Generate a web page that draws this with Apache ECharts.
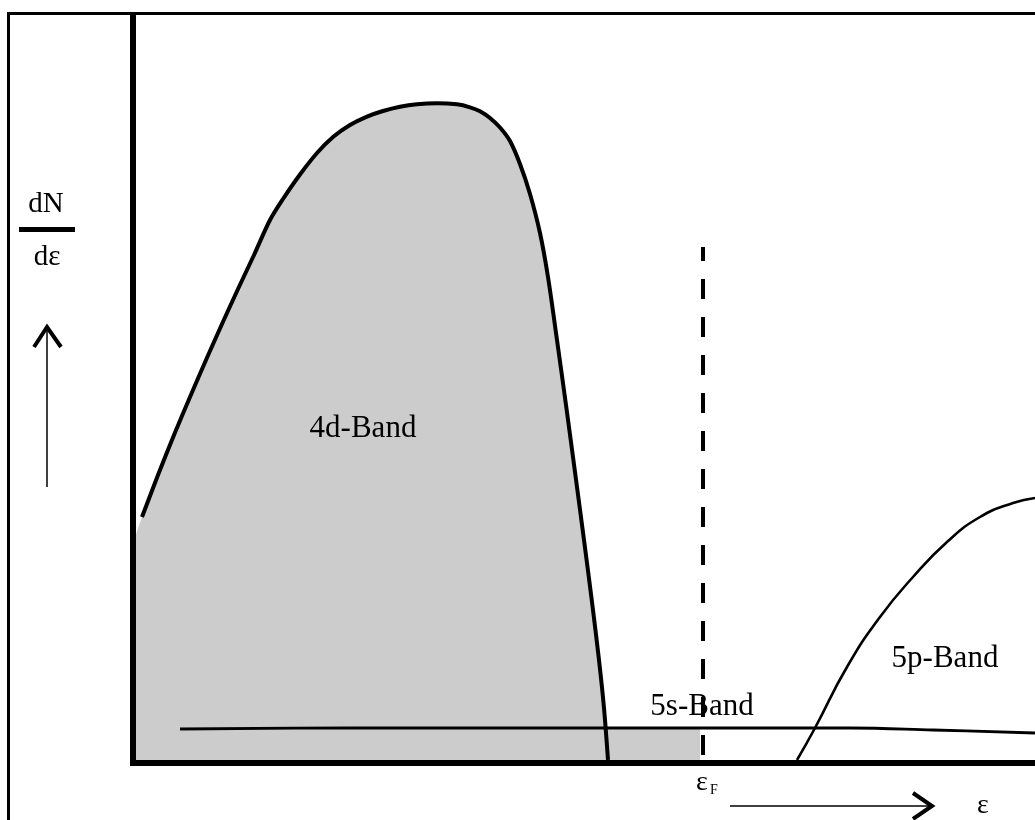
<!DOCTYPE html>
<html>
<head>
<meta charset="utf-8">
<script src="https://cdn.jsdelivr.net/npm/echarts@6/dist/echarts.min.js"></script>
<style>
html,body{margin:0;padding:0;background:#fff;}
#chart{width:1035px;height:820px;}
</style>
</head>
<body>
<div id="chart"></div>
<script>
// Schematic density of states dN/dε vs energy ε (arbitrary units)
var band4d = [[9,246],[25,288],[41,328],[57,366],[73,403],[89,439],[105,474],[121,508],[137,543],[150,564],[167,588.5],[184,610],[200,626],[217,638],[234,646.4],[250,652],[267,656.3],[284,658.8],[304,659.8],[324,658.7],[337,655.7],[347,651.7],[357,645],[367,635.5],[377,622],[387,599],[397,569],[407,530],[415,486],[424,423],[433,358],[442,291],[451,223],[459,161],[466,103],[471,55],[475,3]];
var occupiedBase = [[0,220],[9,246],[9,35],[567,35]];
var band5s = [[47,34],[217,35],[417,35],[567,35],[717,35],[800,33],[902,30]];
var band5p = [[664,3],[682,35],[714,96],[747,146],[780,186],[814,221],[847,246],[880,260],[902,265]];
var fermiLevel = [[570,516],[570,0]];
var bandLabelNames = ['4d-Band','5s-Band','5p-Band'];
var bandLabelPos = [[230,334],[569,56],[812,104]];
var xRange = [0,902];
var yRange = [0,747];

var serif = '"Liberation Serif","DejaVu Serif",serif';
var chart = echarts.init(document.getElementById('chart'), null, {renderer:'canvas'});
var option = {
  backgroundColor:'#ffffff',
  animation:false,
  grid:{left:133,right:0,top:16,bottom:57,containLabel:false},
  xAxis:{type:'value',min:xRange[0],max:xRange[1],z:20,
    axisLine:{show:true,onZero:false,lineStyle:{color:'#000',width:6,cap:'square'}},
    axisTick:{show:false},axisLabel:{show:false},splitLine:{show:false}},
  yAxis:{type:'value',min:yRange[0],max:yRange[1],z:20,
    axisLine:{show:true,onZero:false,lineStyle:{color:'#000',width:6}},
    axisTick:{show:false},axisLabel:{show:false},splitLine:{show:false}},
  series:[
    {type:'line',data:occupiedBase,smooth:false,symbol:'none',silent:true,
      lineStyle:{width:0,opacity:0},areaStyle:{color:'#cccccc',opacity:1}},
    {type:'line',data:band4d,smooth:0.3,symbol:'none',silent:true,
      lineStyle:{color:'#000',width:4},areaStyle:{color:'#cccccc',opacity:1}},
    {type:'line',data:band5s,smooth:0.4,symbol:'none',silent:true,
      lineStyle:{color:'#000',width:2.8}},
    {type:'line',data:fermiLevel,symbol:'none',silent:true,
      lineStyle:{color:'#000',width:4,type:[20,18],dashOffset:6}},
    {type:'line',data:band5p,smooth:0.5,symbol:'none',silent:true,
      lineStyle:{color:'#000',width:2.6}}
  ]
};
chart.setOption(option);

var g = [
  {type:'rect',shape:{x:8.5,y:13.5,width:1040,height:820},
    style:{fill:'none',stroke:'#000',lineWidth:3},z:100},
  {type:'text',style:{text:'dN',x:46,y:219,textAlign:'center',textVerticalAlign:'bottom',
    font:'29px '+serif,fill:'#000'}},
  {type:'rect',shape:{x:19,y:227,width:56,height:5},style:{fill:'#000'}},
  {type:'text',style:{text:'dε',x:47,y:272,textAlign:'center',textVerticalAlign:'bottom',
    font:'29px '+serif,fill:'#000'}},
  {type:'line',shape:{x1:47,y1:487,x2:47,y2:328},style:{stroke:'#000',lineWidth:1.5}},
  {type:'polyline',shape:{points:[[34,347],[47,327],[61,347]]},style:{stroke:'#000',lineWidth:4,fill:'none'}},
  {type:'line',shape:{x1:730,y1:806,x2:930,y2:806},style:{stroke:'#000',lineWidth:1.5}},
  {type:'polyline',shape:{points:[[913,793],[932,806],[913,819]]},style:{stroke:'#000',lineWidth:4,fill:'none'}},
  {type:'text',style:{text:'ε',x:702,y:797,textAlign:'center',textVerticalAlign:'bottom',
    font:'28px '+serif,fill:'#000'}},
  {type:'text',style:{text:'F',x:710,y:797,textAlign:'left',textVerticalAlign:'bottom',
    font:'14px '+serif,fill:'#000'}},
  {type:'text',style:{text:'ε',x:983,y:820,textAlign:'center',textVerticalAlign:'bottom',
    font:'28px '+serif,fill:'#000'}}
];
for (var i = 0; i < bandLabelNames.length; i++) {
  var p = chart.convertToPixel({gridIndex:0}, bandLabelPos[i]);
  g.push({type:'text',z:50,style:{text:bandLabelNames[i],x:p[0],y:p[1],textAlign:'center',
    textVerticalAlign:'middle',font:'31px '+serif,fill:'#000'}});
}
chart.setOption({graphic:g});
</script>
</body>
</html>
